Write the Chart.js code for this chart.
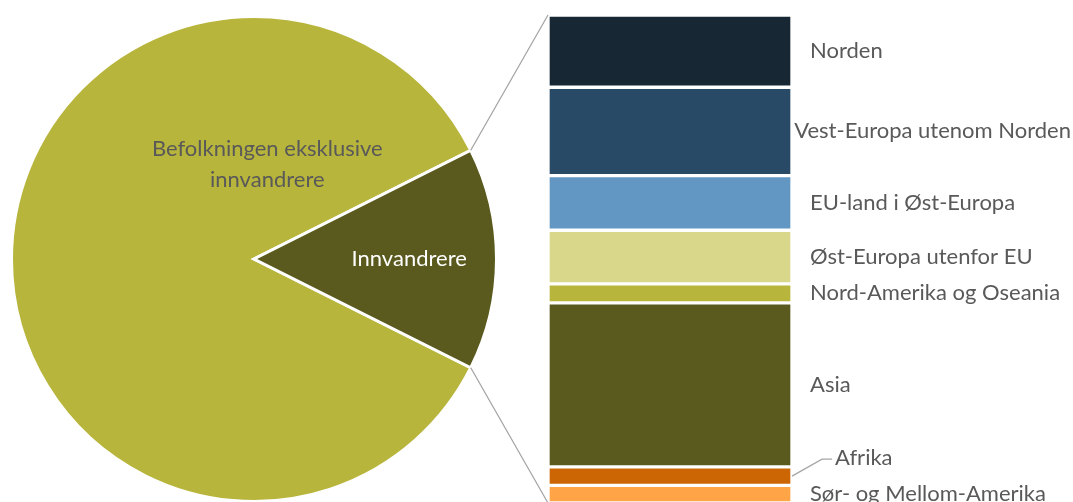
<!DOCTYPE html>
<html>
<head>
<meta charset="utf-8">
<script src="https://cdn.jsdelivr.net/npm/chart.js@4.4.1/dist/chart.umd.min.js"></script>
<style>
  html, body { margin: 0; padding: 0; background: #fff; overflow: hidden; }
  #wrap { position: relative; width: 1073px; height: 502px; overflow: hidden; }
  #pieBox { position: absolute; left: 10px; top: 15px; width: 488px; height: 488px; }
  #barBox { position: absolute; left: 0; top: 0; width: 1073px; height: 520px; }
</style>
</head>
<body>
<div id="wrap">
  <div id="pieBox"><canvas id="pie"></canvas></div>
  <div id="barBox"><canvas id="bar"></canvas></div>
</div>
<script>
// pie: whole population, per cent
const pieLabels = [["Befolkningen eksklusive", "innvandrere"], "Innvandrere"];
const pieValues = [85.2, 14.8];
const pieColors = ["#b8b53c", "#5a5a1e"];

// bar: immigrants by country background, per cent of immigrants
const regions = [
  "Norden",
  "Vest-Europa utenom Norden",
  "EU-land i Øst-Europa",
  "Øst-Europa utenfor EU",
  "Nord-Amerika og Oseania",
  "Asia",
  "Afrika",
  "Sør- og Mellom-Amerika"
];
const regionValues = [14.8, 18.1, 11.2, 11.0, 3.9, 33.6, 3.8, 3.6];
const regionColors = ["#172834", "#294a66", "#6397c3", "#d8d78a", "#b8b53c", "#5a5a1e", "#cc6604", "#ffa447"];

const FONT = "22px Lato";
const GREY = "#595959";
const LINE = "#a6a6a6";

function polar(x, y, angle, r) {
  return { x: x + Math.cos(angle) * r, y: y + Math.sin(angle) * r };
}

const pieText = {
  id: "pieText",
  afterDatasetsDraw(chart) {
    const ctx = chart.ctx;
    const arcs = chart.getDatasetMeta(0).data;
    ctx.save();
    ctx.font = FONT;
    ctx.textAlign = "center";
    ctx.textBaseline = "middle";

    // big slice, label sits up towards the top
    const a0 = arcs[0];
    const p0 = polar(a0.x, a0.y, -82 * Math.PI / 180, a0.outerRadius * 0.394);
    ctx.fillStyle = GREY;
    const lines = pieLabels[0];
    lines.forEach((t, i) => ctx.fillText(t, p0.x, p0.y + (i - (lines.length - 1) / 2) * 31));

    // immigrants slice, on the bisector
    const a1 = arcs[1];
    const mid = (a1.startAngle + a1.endAngle) / 2;
    const p1 = polar(a1.x, a1.y, mid, a1.outerRadius * 0.64);
    ctx.fillStyle = "#ffffff";
    ctx.fillText(pieLabels[1], p1.x, p1.y);
    ctx.restore();
  }
};

const pieTotal = pieValues.reduce((a, b) => a + b, 0);

const pieChart = new Chart(document.getElementById("pie"), {
  type: "pie",
  data: {
    labels: pieLabels,
    datasets: [{
      data: pieValues,
      backgroundColor: pieColors,
      borderColor: "#ffffff",
      borderWidth: 3,
      borderJoinStyle: "miter",
      hoverOffset: 0
    }]
  },
  options: {
    responsive: true,
    maintainAspectRatio: false,
    animation: false,
    // centre the immigrants slice on 3 o'clock
    rotation: 90 + 180 * pieValues[1] / pieTotal,
    layout: { padding: 0 },
    plugins: { legend: { display: false }, tooltip: { enabled: false } }
  },
  plugins: [pieText]
});

// labels to the right of the bar; Afrika is lifted with a leader line
const lifted = { "Afrika": { dx: 25, dy: -18 } };

const barText = {
  id: "barText",
  afterDatasetsDraw(chart) {
    const ctx = chart.ctx;
    const area = chart.chartArea;
    ctx.save();
    ctx.font = FONT;
    ctx.textBaseline = "middle";
    ctx.textAlign = "left";
    regions.forEach((name, i) => {
      const bar = chart.getDatasetMeta(i).data[0];
      const cy = (bar.y + bar.base) / 2;
      let x = area.right + 18;
      let y = cy;
      const lift = lifted[name];
      if (lift) {
        x += lift.dx;
        y += lift.dy;
        ctx.strokeStyle = LINE;
        ctx.lineWidth = 1.3;
        ctx.beginPath();
        ctx.moveTo(area.right, cy);
        ctx.lineTo(x - 13, y + 1);
        ctx.lineTo(x - 3, y + 1);
        ctx.stroke();
      }
      const w = ctx.measureText(name).width;
      x = Math.min(x, chart.width - 2 - w);
      ctx.fillStyle = GREY;
      ctx.fillText(name, x, y);
    });
    ctx.restore();
  }
};

// grey lines from the immigrants slice to the ends of the bar
const connectors = {
  id: "connectors",
  afterDatasetsDraw(chart) {
    const box = document.getElementById("pieBox");
    const arc = pieChart.getDatasetMeta(0).data[1];
    const ox = box.offsetLeft, oy = box.offsetTop;
    const a = polar(arc.x + ox, arc.y + oy, arc.startAngle, arc.outerRadius);
    const b = polar(arc.x + ox, arc.y + oy, arc.endAngle, arc.outerRadius);
    const first = chart.getDatasetMeta(0).data[0];
    const last = chart.getDatasetMeta(regions.length - 1).data[0];
    const left = chart.chartArea.left;
    const ctx = chart.ctx;
    ctx.save();
    ctx.strokeStyle = LINE;
    ctx.lineWidth = 1.3;
    ctx.beginPath();
    ctx.moveTo(a.x, a.y);
    ctx.lineTo(left, Math.min(first.y, first.base));
    ctx.moveTo(b.x, b.y);
    ctx.lineTo(left, Math.max(last.y, last.base));
    ctx.stroke();
    ctx.restore();
  }
};

const regionTotal = regionValues.reduce((a, b) => a + b, 0);

const barChart = new Chart(document.getElementById("bar"), {
  type: "bar",
  data: {
    labels: ["Innvandrere"],
    datasets: regions.map((name, i) => ({
      label: name,
      data: [regionValues[i]],
      backgroundColor: regionColors[i],
      borderColor: "#ffffff",
      borderWidth: 2,
      borderSkipped: false,
      barPercentage: 1,
      categoryPercentage: 1
    }))
  },
  options: {
    responsive: true,
    maintainAspectRatio: false,
    animation: false,
    layout: { padding: { left: 548, right: 281, top: 15, bottom: 17 } },
    scales: {
      x: { display: false, stacked: true },
      y: { display: false, stacked: true, reverse: true, min: 0, max: regionTotal }
    },
    plugins: { legend: { display: false }, tooltip: { enabled: false } }
  },
  plugins: [barText, connectors]
});
</script>
</body>
</html>
